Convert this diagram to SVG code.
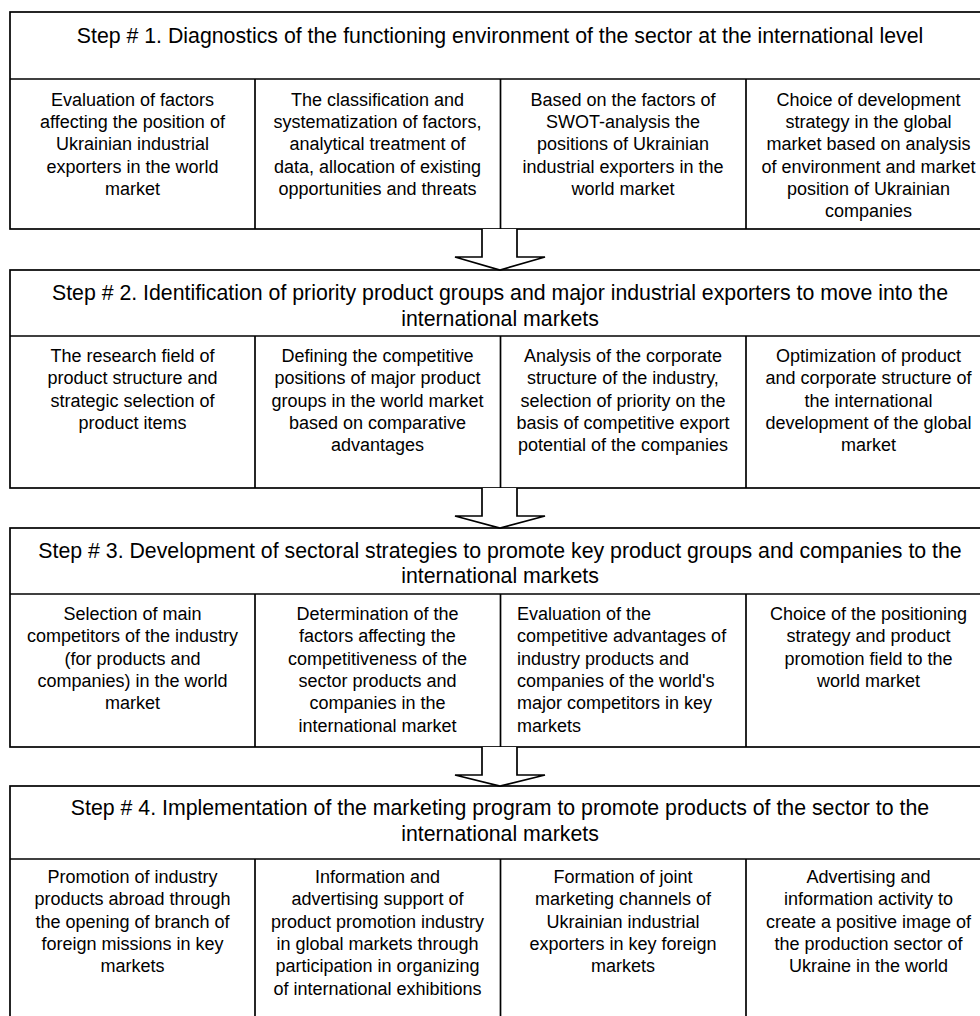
<svg xmlns="http://www.w3.org/2000/svg" width="980" height="1016" viewBox="0 0 980 1016">
<style>
.box{fill:#fff;stroke:#000;stroke-width:1.7}
.ln{stroke:#000;stroke-width:1.7;fill:none}
.arr{fill:#fff;stroke:#000;stroke-width:1.7;stroke-linejoin:miter}
.h{font-family:"Liberation Sans",Arial,sans-serif;font-size:21.3px;fill:#000;text-anchor:middle}
.c{font-family:"Liberation Sans",Arial,sans-serif;font-size:18px;fill:#000;text-anchor:middle}
.l{text-anchor:start}
</style>
<rect width="980" height="1016" fill="#fff"/>
<g id="step1">
<rect class="box" x="10" y="12" width="981" height="217"/>
<line class="ln" x1="10" y1="79" x2="991" y2="79"/>
<line class="ln" x1="255" y1="79" x2="255" y2="229"/>
<line class="ln" x1="500.5" y1="79" x2="500.5" y2="229"/>
<line class="ln" x1="746" y1="79" x2="746" y2="229"/>
<text class="h" x="500" y="43">Step # 1. Diagnostics of the functioning environment of the sector at the international level</text>
<text class="c" y="105.7"><tspan x="132.5">Evaluation of factors</tspan><tspan x="132.5" dy="22.3">affecting the position of</tspan><tspan x="132.5" dy="22.3">Ukrainian industrial</tspan><tspan x="132.5" dy="22.3">exporters in the world</tspan><tspan x="132.5" dy="22.3">market</tspan></text>
<text class="c" y="105.7"><tspan x="377.5">The classification and</tspan><tspan x="377.5" dy="22.3">systematization of factors,</tspan><tspan x="377.5" dy="22.3">analytical treatment of</tspan><tspan x="377.5" dy="22.3">data, allocation of existing</tspan><tspan x="377.5" dy="22.3">opportunities and threats</tspan></text>
<text class="c" y="105.7"><tspan x="623">Based on the factors of</tspan><tspan x="623" dy="22.3">SWOT-analysis the</tspan><tspan x="623" dy="22.3">positions of Ukrainian</tspan><tspan x="623" dy="22.3">industrial exporters in the</tspan><tspan x="623" dy="22.3">world market</tspan></text>
<text class="c" y="105.7"><tspan x="868.5">Choice of development</tspan><tspan x="868.5" dy="22.3">strategy in the global</tspan><tspan x="868.5" dy="22.3">market based on analysis</tspan><tspan x="868.5" dy="22.3">of environment and market</tspan><tspan x="868.5" dy="22.3">position of Ukrainian</tspan><tspan x="868.5" dy="22.3">companies</tspan></text>
</g>
<g id="step2">
<rect class="box" x="10" y="270" width="981" height="218"/>
<line class="ln" x1="10" y1="336" x2="991" y2="336"/>
<line class="ln" x1="255" y1="336" x2="255" y2="488"/>
<line class="ln" x1="500.5" y1="336" x2="500.5" y2="488"/>
<line class="ln" x1="746" y1="336" x2="746" y2="488"/>
<text class="h" y="300"><tspan x="500">Step # 2. Identification of priority product groups and major industrial exporters to move into the</tspan><tspan x="500" dy="25.5">international markets</tspan></text>
<text class="c" y="362"><tspan x="132.5">The research field of</tspan><tspan x="132.5" dy="22.3">product structure and</tspan><tspan x="132.5" dy="22.3">strategic selection of</tspan><tspan x="132.5" dy="22.3">product items</tspan></text>
<text class="c" y="362"><tspan x="377.5">Defining the competitive</tspan><tspan x="377.5" dy="22.3">positions of major product</tspan><tspan x="377.5" dy="22.3">groups in the world market</tspan><tspan x="377.5" dy="22.3">based on comparative</tspan><tspan x="377.5" dy="22.3">advantages</tspan></text>
<text class="c" y="362"><tspan x="623">Analysis of the corporate</tspan><tspan x="623" dy="22.3">structure of the industry,</tspan><tspan x="623" dy="22.3">selection of priority on the</tspan><tspan x="623" dy="22.3">basis of competitive export</tspan><tspan x="623" dy="22.3">potential of the companies</tspan></text>
<text class="c" y="362"><tspan x="868.5">Optimization of product</tspan><tspan x="868.5" dy="22.3">and corporate structure of</tspan><tspan x="868.5" dy="22.3">the international</tspan><tspan x="868.5" dy="22.3">development of the global</tspan><tspan x="868.5" dy="22.3">market</tspan></text>
</g>
<g id="step3">
<rect class="box" x="10" y="528" width="981" height="219"/>
<line class="ln" x1="10" y1="594" x2="991" y2="594"/>
<line class="ln" x1="255" y1="594" x2="255" y2="747"/>
<line class="ln" x1="500.5" y1="594" x2="500.5" y2="747"/>
<line class="ln" x1="746" y1="594" x2="746" y2="747"/>
<text class="h" y="557.5"><tspan x="500">Step # 3. Development of sectoral strategies to promote key product groups and companies to the</tspan><tspan x="500" dy="25.5">international markets</tspan></text>
<text class="c" y="620"><tspan x="132.5">Selection of main</tspan><tspan x="132.5" dy="22.3">competitors of the industry</tspan><tspan x="132.5" dy="22.3">(for products and</tspan><tspan x="132.5" dy="22.3">companies) in the world</tspan><tspan x="132.5" dy="22.3">market</tspan></text>
<text class="c" y="620"><tspan x="377.5">Determination of the</tspan><tspan x="377.5" dy="22.3">factors affecting the</tspan><tspan x="377.5" dy="22.3">competitiveness of the</tspan><tspan x="377.5" dy="22.3">sector products and</tspan><tspan x="377.5" dy="22.3">companies in the</tspan><tspan x="377.5" dy="22.3">international market</tspan></text>
<text class="c l" y="620"><tspan x="517">Evaluation of the</tspan><tspan x="517" dy="22.3">competitive advantages of</tspan><tspan x="517" dy="22.3">industry products and</tspan><tspan x="517" dy="22.3">companies of the world's</tspan><tspan x="517" dy="22.3">major competitors in key</tspan><tspan x="517" dy="22.3">markets</tspan></text>
<text class="c" y="620"><tspan x="868.5">Choice of the positioning</tspan><tspan x="868.5" dy="22.3">strategy and product</tspan><tspan x="868.5" dy="22.3">promotion field to the</tspan><tspan x="868.5" dy="22.3">world market</tspan></text>
</g>
<g id="step4">
<rect class="box" x="10" y="786" width="981" height="240"/>
<line class="ln" x1="10" y1="859" x2="991" y2="859"/>
<line class="ln" x1="255" y1="859" x2="255" y2="1026"/>
<line class="ln" x1="500.5" y1="859" x2="500.5" y2="1026"/>
<line class="ln" x1="746" y1="859" x2="746" y2="1026"/>
<text class="h" y="815"><tspan x="500">Step # 4. Implementation of the marketing program to promote products of the sector to the</tspan><tspan x="500" dy="26">international markets</tspan></text>
<text class="c" y="883"><tspan x="132.5">Promotion of industry</tspan><tspan x="132.5" dy="22.3">products abroad through</tspan><tspan x="132.5" dy="22.3">the opening of branch of</tspan><tspan x="132.5" dy="22.3">foreign missions in key</tspan><tspan x="132.5" dy="22.3">markets</tspan></text>
<text class="c" y="883"><tspan x="377.5">Information and</tspan><tspan x="377.5" dy="22.3">advertising support of</tspan><tspan x="377.5" dy="22.3">product promotion industry</tspan><tspan x="377.5" dy="22.3">in global markets through</tspan><tspan x="377.5" dy="22.3">participation in organizing</tspan><tspan x="377.5" dy="22.3">of international exhibitions</tspan></text>
<text class="c" y="883"><tspan x="623">Formation of joint</tspan><tspan x="623" dy="22.3">marketing channels of</tspan><tspan x="623" dy="22.3">Ukrainian industrial</tspan><tspan x="623" dy="22.3">exporters in key foreign</tspan><tspan x="623" dy="22.3">markets</tspan></text>
<text class="c" y="883"><tspan x="868.5">Advertising and</tspan><tspan x="868.5" dy="22.3">information activity to</tspan><tspan x="868.5" dy="22.3">create a positive image of</tspan><tspan x="868.5" dy="22.3">the production sector of</tspan><tspan x="868.5" dy="22.3">Ukraine in the world</tspan></text>
</g>
<g id="connectors">
<path class="arr" d="M482,229 V257 H455 L500,270 L545,257 H517 V229"/>
<path class="arr" d="M482,488 V516 H455 L500,528 L545,516 H517 V488"/>
<path class="arr" d="M482,747 V775 H455 L500,786 L545,775 H517 V747"/>
</g>
</svg>
